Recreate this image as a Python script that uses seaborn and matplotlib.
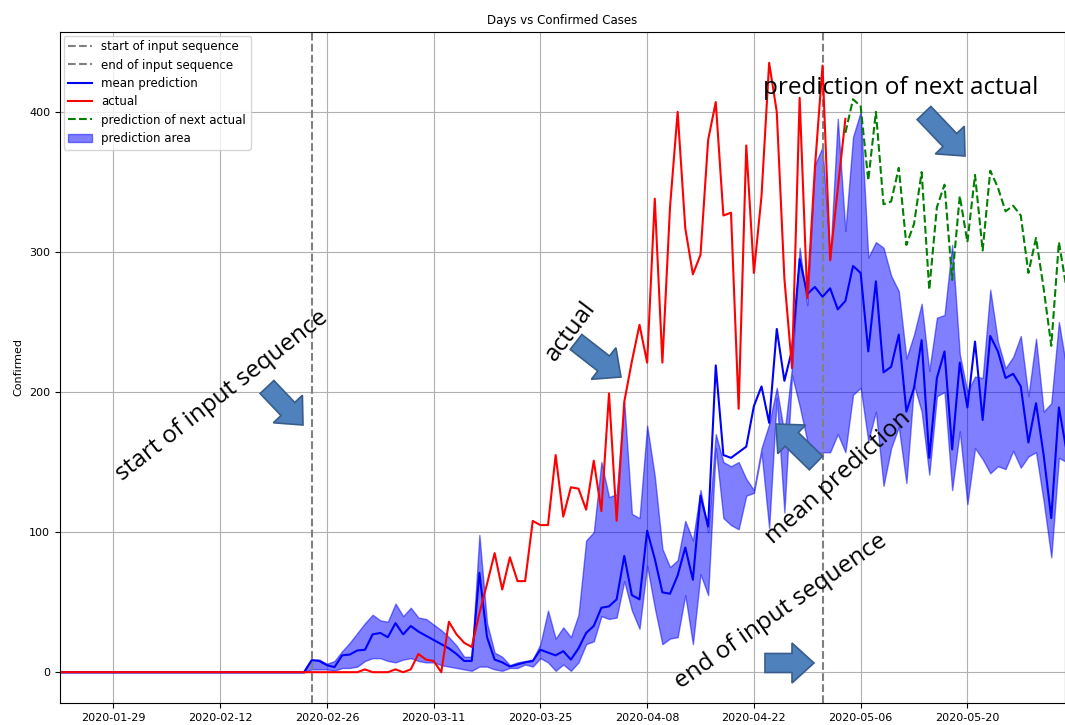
import pandas as pd
import numpy as np
import matplotlib
matplotlib.use("Agg")
import matplotlib.pyplot as plt
import matplotlib.dates as mdates
from matplotlib.patches import FancyArrow
import seaborn as sns

# Data
first_day = "2020-01-22"
input_start = "2020-02-24"
input_end = "2020-05-01"
next_start = "2020-05-04"
tick_dates = ["2020-01-29", "2020-02-12", "2020-02-26", "2020-03-11", "2020-03-25",
              "2020-04-08", "2020-04-22", "2020-05-06", "2020-05-20"]

mean_pred = [0] * 33 + [
    8.6, 8, 5, 3.6, 12, 12.6, 15.5, 16, 27, 28,
    25, 35, 27, 33, 29, 26, 23, 20, 17, 13,
    8, 8, 71, 25, 9, 7, 4, 5.5, 7, 8,
    16, 14, 12, 15, 9, 17, 28, 33, 46, 47,
    52, 83, 55, 52, 101, 81, 57, 56, 69, 89,
    66, 126, 104, 219, 155, 153, 157, 161, 190, 204,
    178, 245, 208, 230, 295, 270, 275, 268, 274, 259,
    265, 290, 285, 229, 279, 214, 218, 241, 186, 203,
    237, 153, 210, 229, 159, 221, 189, 236, 180, 240,
    229, 210, 213, 204, 164, 192, 155, 110, 189, 158]

pred_upper = [0] * 33 + [
    9, 9, 6, 8, 15, 21, 28, 35, 41, 37,
    36, 49, 40, 46, 39, 38, 34, 30, 25, 19,
    11, 11, 98, 35, 14, 11, 5, 7, 8, 9,
    20, 44, 24, 32, 25, 41, 94, 100, 150, 125,
    127, 193, 113, 110, 176, 140, 88, 75, 80, 108,
    94, 130, 100, 170, 150, 147, 150, 138, 130, 160,
    177, 203, 170, 218, 303, 262, 362, 375, 295, 395,
    315, 382, 400, 296, 307, 303, 283, 272, 224, 241,
    263, 215, 253, 255, 305, 227, 200, 211, 210, 273,
    236, 217, 225, 240, 197, 238, 186, 192, 250, 217]

pred_lower = [0] * 33 + [
    2, 2, 2, 1, 3, 3, 4, 8, 10, 10,
    8, 7, 9, 10, 8, 7, 7, 5, 4, 3,
    2, 1, 4, 4, 2, 1, 3, 3, 5.5, 4,
    10, 7, 1, 5.5, 1, 7, 20, 22, 40, 38,
    39, 65, 44, 31, 76, 46, 20, 24, 25, 55,
    20, 70, 55, 160, 110, 105, 102, 126, 128, 157,
    103, 196, 114, 212, 190, 165, 155, 157, 157, 170,
    157, 198, 203, 165, 186, 133, 160, 175, 135, 205,
    186, 141, 197, 200, 130, 172, 120, 160, 152, 142,
    147, 145, 158, 146, 154, 157, 122, 82, 153, 150]

actual = [0] * 40 + [
    2, 0, 0, 0, 2, 0, 2, 13, 9, 8,
    0, 36, 27, 21, 18, 42, 63, 85, 59, 82,
    65, 65, 108, 105, 105, 155, 111, 132, 131, 116,
    151, 115, 199, 108, 193, 222, 248, 221, 338, 221,
    332, 400, 317, 284, 298, 380, 407, 326, 328, 188,
    376, 285, 340, 435, 400, 281, 217, 410, 267, 360,
    433, 294, 345, 395]

next_actual = [
    385, 409, 404, 351, 400, 334, 336, 360, 305, 320,
    357, 273, 332, 348, 280, 340, 307, 355, 301, 358,
    346, 329, 333, 326, 285, 310, 274, 233, 307, 274]

pred_df = pd.DataFrame({
    "date": pd.date_range(first_day, periods=len(mean_pred), freq="D"),
    "mean": mean_pred, "upper": pred_upper, "lower": pred_lower})
actual_df = pd.DataFrame({
    "date": pd.date_range(first_day, periods=len(actual), freq="D"),
    "Confirmed": actual})
next_df = pd.DataFrame({
    "date": pd.date_range(next_start, periods=len(next_actual), freq="D"),
    "Confirmed": next_actual})

plt.rcParams["font.size"] = 8
fig = plt.figure(figsize=(10.65, 7.25), dpi=100)
ax = fig.add_axes([60 / 1065, 22 / 725, 1005 / 1065, 671 / 725])

ax.axvline(pd.Timestamp(input_start), color="grey", linestyle="--", linewidth=1.5,
           label="start of input sequence")
ax.axvline(pd.Timestamp(input_end), color="grey", linestyle="--", linewidth=1.5,
           label="end of input sequence")
sns.lineplot(data=pred_df, x="date", y="mean", color="blue", linewidth=1.5,
             label="mean prediction", ax=ax)
sns.lineplot(data=actual_df, x="date", y="Confirmed", color="red", linewidth=1.5,
             label="actual", ax=ax)
sns.lineplot(data=next_df, x="date", y="Confirmed", color="green", linewidth=1.5,
             linestyle="--", label="prediction of next actual", ax=ax)
ax.fill_between(pred_df["date"], pred_df["lower"], pred_df["upper"], color="blue",
                alpha=0.5, label="prediction area")

ax.set_xlim(pd.Timestamp(first_day), pd.Timestamp(first_day) + pd.Timedelta(days=131.8))
ax.set_ylim(-22, 457)
ax.set_xticks(pd.to_datetime(tick_dates))
ax.xaxis.set_major_formatter(mdates.DateFormatter("%Y-%m-%d"))
ax.grid(True, color="#b0b0b0", linewidth=0.8)
ax.set_axisbelow(True)
ax.set_title("Days vs Confirmed Cases", fontsize=8.5)
ax.set_xlabel("")
ax.set_ylabel("Confirmed")
ax.legend(loc="upper left", fontsize=8.5, labelspacing=0.45, borderaxespad=0.3)

# callouts
note_font = "Open Sans"
notes = [
    ("start of input sequence", 222, 396, 38),
    ("actual", 571, 331, 53),
    ("mean prediction", 838, 478, 42),
    ("end of input sequence", 781, 612, 35),
    ("prediction of next actual", 901, 88, 0),
]
for txt, px, py, rot in notes:
    fig.text(px / 1065, (725 - py) / 725, txt, rotation=rot, rotation_mode="anchor",
             ha="center", va="center", fontsize=17.5, family=note_font, color="black")

arrows = [
    (267, 387, 303, 425),
    (576, 342, 621, 377),
    (924, 113, 965, 156),
    (816, 463, 776, 424),
    (765, 663, 814, 663),
]
for x0, y0, x1, y1 in arrows:
    arr = FancyArrow(x0 / 100, (725 - y0) / 100, (x1 - x0) / 100, -(y1 - y0) / 100,
                     width=0.19, head_width=0.40, head_length=0.22,
                     length_includes_head=True, facecolor="#4f81bd",
                     edgecolor="#385d8a", linewidth=1.2,
                     transform=fig.dpi_scale_trans)
    fig.add_artist(arr)

fig.savefig("out.png", dpi=100)
